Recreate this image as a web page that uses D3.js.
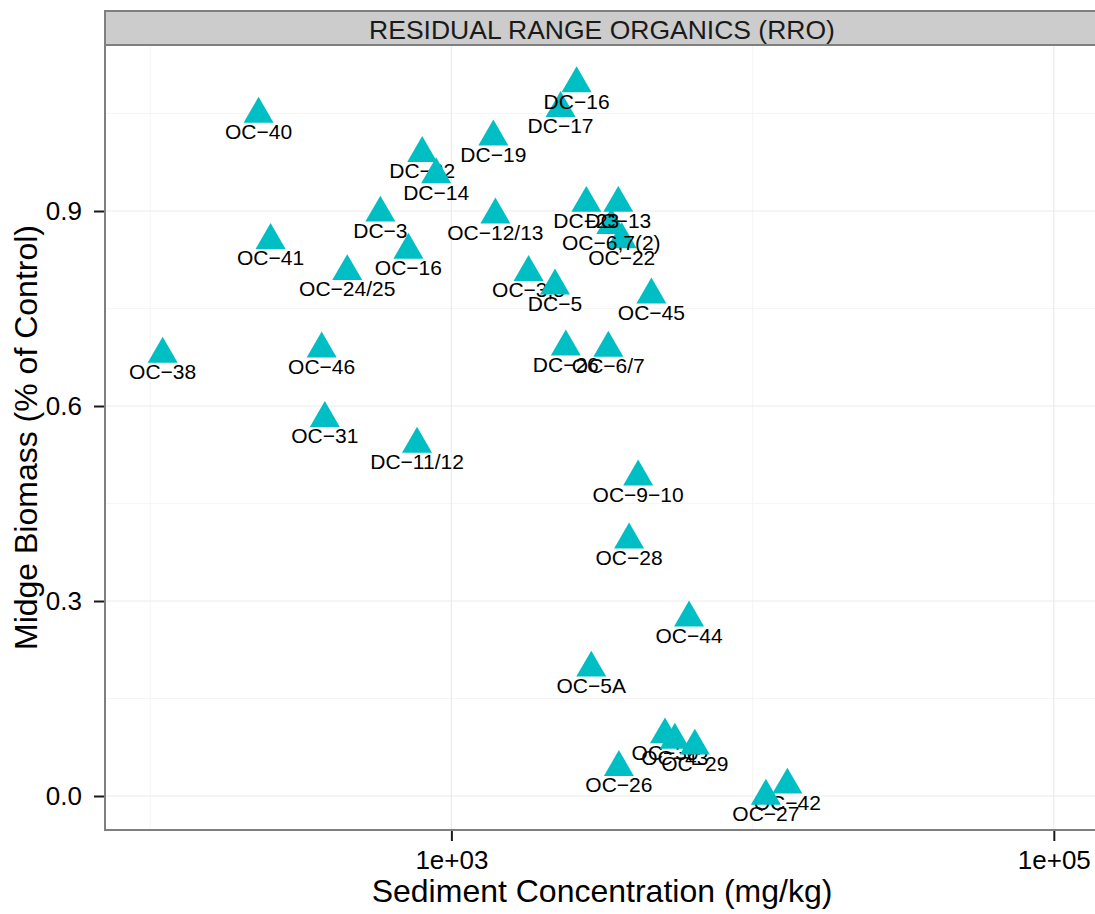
<!DOCTYPE html>
<html>
<head>
<meta charset="utf-8">
<script src="https://cdn.jsdelivr.net/npm/d3@7"></script>
<style>
  html, body { margin: 0; padding: 0; background: #ffffff; }
  svg { display: block; font-family: "Liberation Sans", Arial, Helvetica, sans-serif; }
</style>
</head>
<body>
<svg id="chart" width="1095" height="914"></svg>
<script>
// ---- data (drawing order matters for overlaps) ----
const sites = ["OC−40","OC−38","OC−46","OC−31","DC−11/12","OC−41","OC−24/25","DC−3","OC−16",
  "DC−22","DC−14","DC−19","OC−12/13","DC−17","DC−16","OC−3,5","DC−5","OC−45","OC−22",
  "OC−6,7(2)","DC−23","DC−13","DC−26","OC−6/7","OC−9−10","OC−28","OC−44","OC−5A","OC−26",
  "OC−30","OC−43","OC−29","OC−42","OC−27"];
const concentration = [229, 110, 371, 380, 769, 251, 451, 581, 720,
  800, 890, 1378, 1400, 2304, 2604, 1804, 2208, 4613, 3677,
  3395, 2805, 3581, 2398, 3319, 4169, 3890, 6152, 2913, 3598,
  5117, 5519, 6430, 13042, 11068];
const biomass = [1.049, 0.680, 0.688, 0.581, 0.5415, 0.855, 0.807, 0.897, 0.840,
  0.9886, 0.956, 1.014, 0.894, 1.058, 1.096, 0.8055, 0.785, 0.771, 0.856,
  0.878, 0.912, 0.912, 0.691, 0.689, 0.491, 0.394, 0.274, 0.197, 0.044,
  0.0943, 0.086, 0.077, 0.017, 0.0];

const xMajorTicks = [1e3, 1e5];
const xTickLabels = ["1e+03", "1e+05"];
const xMinorTicks = [1e2, 1e4];
const yMajorTicks = [0, 0.3, 0.6, 0.9];
const yTickLabels = ["0.0", "0.3", "0.6", "0.9"];
const yMinorTicks = [0.15, 0.45, 0.75, 1.05];
const stripTitle = "RESIDUAL RANGE ORGANICS (RRO)";
const xTitle = "Sediment Concentration (mg/kg)";
const yTitle = "Midge Biomass (% of Control)";

// ---- layout ----
const panel = { left: 105, right: 1099, top: 45, bottom: 830 };
const svg = d3.select("#chart");

const x = d3.scaleLog().domain([Math.pow(10, 1.85), Math.pow(10, 5.15)]).range([panel.left, panel.right]);
const y = d3.scaleLinear().domain([-0.0523, 1.1554]).range([panel.bottom, panel.top]);

// panel background
svg.append("rect").attr("x", panel.left).attr("y", panel.top)
  .attr("width", panel.right - panel.left).attr("height", panel.bottom - panel.top)
  .attr("fill", "#ffffff");

// grid
const grid = svg.append("g");
grid.selectAll(".ymin").data(yMinorTicks).join("line")
  .attr("x1", panel.left).attr("x2", panel.right)
  .attr("y1", d => y(d)).attr("y2", d => y(d))
  .attr("stroke", "#F5F5F5").attr("stroke-width", 1);
grid.selectAll(".xmin").data(xMinorTicks).join("line")
  .attr("y1", panel.top).attr("y2", panel.bottom)
  .attr("x1", d => x(d)).attr("x2", d => x(d))
  .attr("stroke", "#F5F5F5").attr("stroke-width", 1);
grid.selectAll(".ymaj").data(yMajorTicks).join("line")
  .attr("x1", panel.left).attr("x2", panel.right)
  .attr("y1", d => y(d)).attr("y2", d => y(d))
  .attr("stroke", "#EBEBEB").attr("stroke-width", 1.2);
grid.selectAll(".xmaj").data(xMajorTicks).join("line")
  .attr("y1", panel.top).attr("y2", panel.bottom)
  .attr("x1", d => x(d)).attr("x2", d => x(d))
  .attr("stroke", "#EBEBEB").attr("stroke-width", 1.2);

// points + labels, drawn row by row
const tri = d3.symbol().type(d3.symbolTriangle).size(390);
const marks = svg.append("g");
sites.forEach((s, i) => {
  const px = x(concentration[i]), py = y(biomass[i]);
  marks.append("path").attr("d", tri()).attr("transform", `translate(${px},${py})`)
    .attr("fill", "#00BFC4");
  marks.append("text").attr("x", px).attr("y", py + 25)
    .attr("text-anchor", "middle").attr("font-size", 21).attr("fill", "#000")
    .text(s);
});

// panel border
svg.append("rect").attr("x", panel.left).attr("y", panel.top)
  .attr("width", panel.right - panel.left).attr("height", panel.bottom - panel.top)
  .attr("fill", "none").attr("stroke", "#7F7F7F").attr("stroke-width", 2);

// strip
svg.append("rect").attr("x", panel.left).attr("y", 11)
  .attr("width", panel.right - panel.left).attr("height", panel.top - 11)
  .attr("fill", "#CCCCCC").attr("stroke", "#7F7F7F").attr("stroke-width", 2);
svg.append("text").attr("x", (panel.left + panel.right) / 2).attr("y", 38.5)
  .attr("text-anchor", "middle").attr("font-size", 26.5).attr("fill", "#1a1a1a")
  .text(stripTitle);

// axes
const yAxis = d3.axisLeft(y).tickValues(yMajorTicks)
  .tickFormat((d, i) => yTickLabels[i]).tickSize(10).tickPadding(12);
const gy = svg.append("g").attr("transform", `translate(${panel.left - 1},0)`).call(yAxis);
gy.select(".domain").remove();
gy.selectAll(".tick line").attr("stroke", "#1a1a1a").attr("stroke-width", 2);
gy.selectAll(".tick text").attr("font-size", 26).attr("fill", "#000")
  .attr("font-family", "Liberation Sans, Arial, sans-serif");

const xAxis = d3.axisBottom(x).tickValues(xMajorTicks)
  .tickFormat((d, i) => xTickLabels[i]).tickSize(10).tickPadding(10);
const gx = svg.append("g").attr("transform", `translate(0,${panel.bottom + 1})`).call(xAxis);
gx.select(".domain").remove();
gx.selectAll(".tick line").attr("stroke", "#1a1a1a").attr("stroke-width", 2);
gx.selectAll(".tick text").attr("font-size", 26).attr("fill", "#000")
  .attr("font-family", "Liberation Sans, Arial, sans-serif");

// axis titles
svg.append("text").attr("x", (panel.left + panel.right) / 2).attr("y", 902)
  .attr("text-anchor", "middle").attr("font-size", 32).attr("fill", "#000")
  .text(xTitle);
svg.append("text").attr("transform", `translate(37,${(panel.top + panel.bottom) / 2}) rotate(-90)`)
  .attr("text-anchor", "middle").attr("font-size", 32).attr("fill", "#000")
  .text(yTitle);
</script>
</body>
</html>
